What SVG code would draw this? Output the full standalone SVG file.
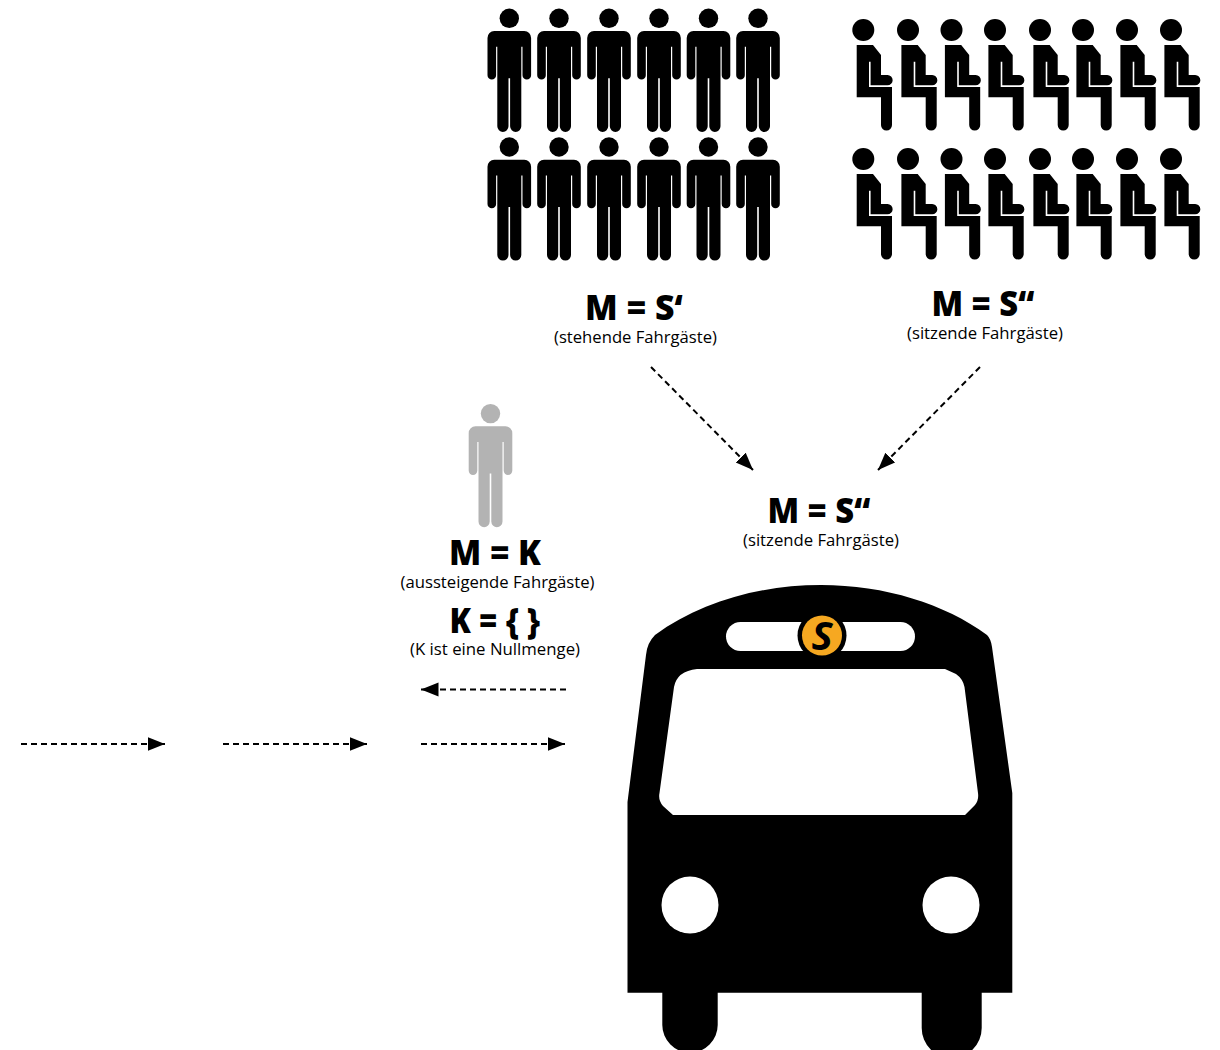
<svg xmlns="http://www.w3.org/2000/svg" xmlns:xlink="http://www.w3.org/1999/xlink" width="1220" height="1050" viewBox="0 0 1220 1050">
<style>
text{font-family:"Open Sans","Noto Sans","Liberation Sans",sans-serif;fill:#000;text-anchor:middle}
.big{font-size:35px;font-weight:800}
.small{font-size:16px}
.conn{fill:none;stroke:#000;stroke-width:2;stroke-dasharray:6 4}
</style>
<defs>
<marker id="arrow" markerUnits="userSpaceOnUse" markerWidth="20" markerHeight="16" refX="17.5" refY="7" orient="auto">
<path d="M0 0L17.5 7L0 14Z" fill="#000"/>
</marker>
<g id="stand">
<circle cx="0" cy="0" r="9.7"/>
<path d="M-15 12.7H15A6.8 7 0 0 1 21.8 19.7V57A4.3 4.3 0 0 1 13.2 57V28.4H12V108A5.6 5.6 0 0 1 .8 108V60H-.8V108A5.6 5.6 0 0 1 -12 108V28.4H-13.2V57A4.3 4.3 0 0 1 -21.8 57V19.7A6.8 7 0 0 1 -15 12.7Z"/>
</g>
<g id="sit">
<circle cx="0" cy="0" r="11"/>
<path d="M-6.6 15H9.7L17.7 25V45H24.2A5.15 5.15 0 0 1 24.2 55.3H7.3V31.7H5.7V57H28.7V95A5.5 5.5 0 0 1 17.7 95V67.3H-6.6Z"/>
</g>
</defs>
<rect width="1220" height="1050" fill="#fff"/>
<g id="standing-passengers">
<use xlink:href="#stand" href="#stand" x="509.3" y="18.3"/>
<use xlink:href="#stand" href="#stand" x="559" y="18.3"/>
<use xlink:href="#stand" href="#stand" x="609" y="18.3"/>
<use xlink:href="#stand" href="#stand" x="659" y="18.3"/>
<use xlink:href="#stand" href="#stand" x="708.5" y="18.3"/>
<use xlink:href="#stand" href="#stand" x="758" y="18.3"/>
<use xlink:href="#stand" href="#stand" x="509.3" y="147"/>
<use xlink:href="#stand" href="#stand" x="559" y="147"/>
<use xlink:href="#stand" href="#stand" x="609" y="147"/>
<use xlink:href="#stand" href="#stand" x="659" y="147"/>
<use xlink:href="#stand" href="#stand" x="708.5" y="147"/>
<use xlink:href="#stand" href="#stand" x="758" y="147"/>
</g>
<g id="sitting-passengers">
<use xlink:href="#sit" href="#sit" x="863.3" y="30"/>
<use xlink:href="#sit" href="#sit" x="908" y="30"/>
<use xlink:href="#sit" href="#sit" x="951.5" y="30"/>
<use xlink:href="#sit" href="#sit" x="995" y="30"/>
<use xlink:href="#sit" href="#sit" x="1040" y="30"/>
<use xlink:href="#sit" href="#sit" x="1083" y="30"/>
<use xlink:href="#sit" href="#sit" x="1127" y="30"/>
<use xlink:href="#sit" href="#sit" x="1171" y="30"/>
<use xlink:href="#sit" href="#sit" x="863.3" y="159"/>
<use xlink:href="#sit" href="#sit" x="908" y="159"/>
<use xlink:href="#sit" href="#sit" x="951.5" y="159"/>
<use xlink:href="#sit" href="#sit" x="995" y="159"/>
<use xlink:href="#sit" href="#sit" x="1040" y="159"/>
<use xlink:href="#sit" href="#sit" x="1083" y="159"/>
<use xlink:href="#sit" href="#sit" x="1127" y="159"/>
<use xlink:href="#sit" href="#sit" x="1171" y="159"/>
</g>
<g id="label-standing">
<text class="big" x="634" y="320" textLength="98" lengthAdjust="spacingAndGlyphs">M = S‘</text>
<text class="small" x="635.5" y="343" textLength="163" lengthAdjust="spacingAndGlyphs">(stehende Fahrgäste)</text>
</g>
<g id="label-sitting">
<text class="big" x="983" y="316" textLength="103" lengthAdjust="spacingAndGlyphs">M = S“</text>
<text class="small" x="985" y="339" textLength="156" lengthAdjust="spacingAndGlyphs">(sitzende Fahrgäste)</text>
</g>
<g id="label-result">
<text class="big" x="819" y="523" textLength="103" lengthAdjust="spacingAndGlyphs">M = S“</text>
<text class="small" x="821" y="546" textLength="156" lengthAdjust="spacingAndGlyphs">(sitzende Fahrgäste)</text>
</g>
<g id="grey-passenger" fill="#b3b3b3">
<use xlink:href="#stand" href="#stand" x="490.5" y="413.6"/>
</g>
<g id="label-k">
<text class="big" x="495" y="565" textLength="92" lengthAdjust="spacingAndGlyphs">M = K</text>
<text class="small" x="497.5" y="588" textLength="194" lengthAdjust="spacingAndGlyphs">(aussteigende Fahrgäste)</text>
<text class="big" x="495" y="633" textLength="91" lengthAdjust="spacingAndGlyphs">K = { }</text>
<text class="small" x="495" y="655" textLength="170" lengthAdjust="spacingAndGlyphs">(K ist eine Nullmenge)</text>
</g>
<g id="connectors">
<line class="conn" x1="651" y1="367" x2="753" y2="470" marker-end="url(#arrow)"/>
<line class="conn" x1="980" y1="367" x2="878" y2="470" marker-end="url(#arrow)"/>
<line class="conn" x1="566" y1="689.5" x2="421" y2="689.5" marker-end="url(#arrow)"/>
<line class="conn" x1="21" y1="744" x2="165" y2="744" marker-end="url(#arrow)"/>
<line class="conn" x1="223" y1="744" x2="367" y2="744" marker-end="url(#arrow)"/>
<line class="conn" x1="421" y1="744" x2="565" y2="744" marker-end="url(#arrow)"/>
</g>
<g id="bus">
<path d="M627.5 802L646 655Q647 643 655 635C700 602 760 585 821 585C885 585 945 604 987 635Q991 639 992 647L1012.3 793V992.7H981.7V1028A30 30 0 0 1 921.7 1028V992.7H717.7V1025A27.7 27.7 0 0 1 662.3 1025V992.7H627.5Z"/>
<path fill="#fff" d="M697 669H945L956 674Q963 679 964.5 687L978 793Q979 800 975 805L965 815H673L663 806Q658 800 659.5 793L674 687Q677 671 697 669Z"/>
<rect x="726" y="622" width="189" height="29" rx="14.5" fill="#fff"/>
<circle cx="690" cy="905" r="28.5" fill="#fff"/>
<circle cx="951" cy="905" r="28.5" fill="#fff"/>
<circle cx="822" cy="635.5" r="24.5"/>
<circle cx="822" cy="635.5" r="20" fill="#f6a821"/>
<text x="822" y="650" style="font-size:40px;font-weight:700;font-style:italic">S</text>
</g>
</svg>
